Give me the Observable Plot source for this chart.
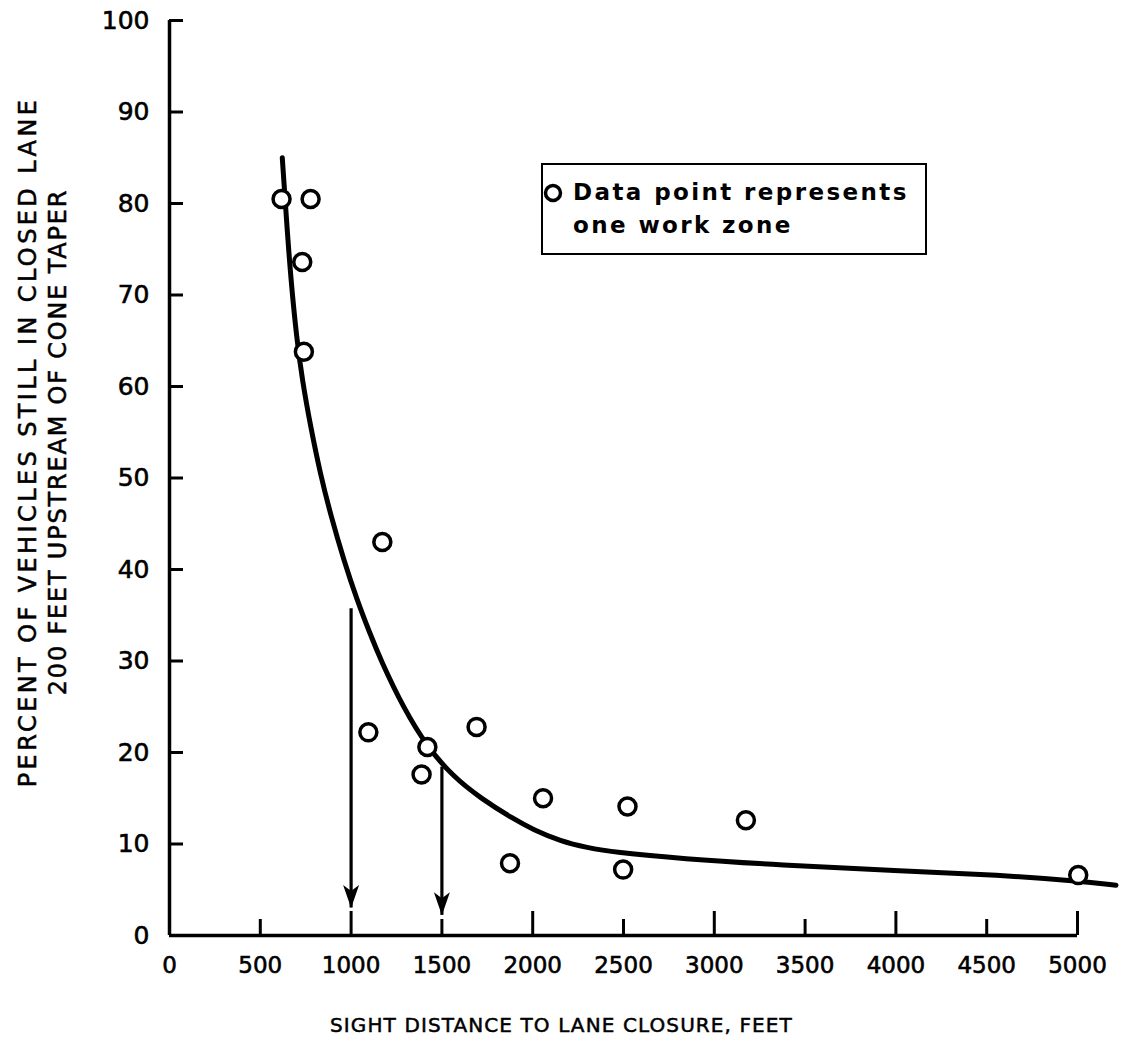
<!DOCTYPE html>
<html><head><meta charset="utf-8">
<script src="https://cdn.jsdelivr.net/npm/d3@7"></script>
<script src="https://cdn.jsdelivr.net/npm/@observablehq/plot@0.6"></script>
<style>
body{margin:0;background:#fff;}
#wrap{position:relative;width:1126px;height:1044px;}
.yt1 text{letter-spacing:3.4px;stroke:#000;stroke-width:0.5px;}
.yt2 text{letter-spacing:1.8px;stroke:#000;stroke-width:0.5px;}
.xt text{letter-spacing:1.1px;stroke:#000;stroke-width:0.5px;}
g[aria-label$="tick label"] text{stroke:#000;stroke-width:0.6px;}
#legend{position:absolute;left:541px;top:163px;width:386px;height:92px;border:2.5px solid #000;box-sizing:border-box;font-family:"DejaVu Sans",sans-serif;font-weight:bold;font-size:23px;letter-spacing:2.4px;color:#000;}
#legend .l1{position:absolute;left:30px;top:13px;white-space:nowrap;line-height:28px;}
#legend .l2{position:absolute;left:30px;top:46px;white-space:nowrap;line-height:28px;}
#legend svg{position:absolute;left:0;top:16px;}
</style></head><body><div id="wrap"></div>
<script>
// Data points (one per work zone)
const pointX = [617, 777, 731, 740, 1172, 1095, 1420, 1388, 1691, 2057, 1875, 2522, 2498, 3174, 5004];
const pointY = [80.5, 80.5, 73.6, 63.8, 43.0, 22.2, 20.6, 17.6, 22.8, 15.0, 7.9, 14.1, 7.2, 12.6, 6.6];
// Fitted curve
const curveX = [621, 645, 667, 700, 731, 780, 830, 887, 960, 1034, 1100, 1163, 1290, 1420, 1560, 1713, 1897, 2000, 2154, 2300, 2447, 2815, 3366, 4000, 4578, 5004, 5212];
const curveY = [85, 78.0, 72.0, 65.3, 60.7, 55.3, 50.5, 46.0, 41.0, 36.6, 33.2, 30.1, 24.8, 20.6, 17.4, 15.0, 12.7, 11.6, 10.3, 9.6, 9.1, 8.4, 7.7, 7.1, 6.6, 5.95, 5.5];
// Arrows
const arrowX = [1000, 1500];
const arrowTop = [35.7, 18.4];
const arrowTip = [3.0, 2.2];
// Ticks
const yTicks = [0, 10, 20, 30, 40, 50, 60, 70, 80, 90, 100];
const xMajor = [1000, 2000, 3000, 4000, 5000];
const xMinor = [500, 1500, 2500, 3500, 4500];
const xLabels = [0, 500, 1000, 1500, 2000, 2500, 3000, 3500, 4000, 4500, 5000];
const yTitle1 = "PERCENT OF VEHICLES STILL IN CLOSED LANE";
const yTitle2 = "200 FEET UPSTREAM OF CONE TAPER";
const xTitle = "SIGHT DISTANCE TO LANE CLOSURE, FEET";
const legendLines = ["Data point represents", "one work zone"];

const arrowHead = {draw(ctx) { ctx.moveTo(0, 0); ctx.lineTo(-8, -23); ctx.lineTo(0, -17); ctx.lineTo(8, -23); ctx.closePath(); }};

const chart = Plot.plot({
  width: 1126, height: 1044,
  marginLeft: 169, marginRight: 49, marginTop: 20, marginBottom: 109,
  x: {domain: [0, 5000], label: null},
  y: {domain: [0, 100], label: null},
  style: {fontFamily: "DejaVu Sans, sans-serif", color: "#000", background: "#fff"},
  marks: [
    Plot.ruleY([0], {x1: 0, x2: 5000, strokeWidth: 3.5, stroke: "#000"}),
    Plot.ruleX([0], {y1: 0, y2: 100, strokeWidth: 3.5, stroke: "#000"}),
    Plot.axisY({ticks: yTicks, tickSize: -14, tickFormat: () => "", strokeWidth: 3}),
    Plot.axisY({ticks: yTicks, tickSize: 0, tickPadding: 20, fontSize: 25, tickFormat: d => String(d)}),
    Plot.axisX({ticks: xMajor, tickSize: -24, tickFormat: () => "", strokeWidth: 3}),
    Plot.axisX({ticks: xMinor, tickSize: -16, tickFormat: () => "", strokeWidth: 3}),
    Plot.axisX({ticks: xLabels, tickSize: 0, tickPadding: 21, fontSize: 23, tickFormat: d => String(d)}),
    Plot.line(curveX, {x: curveX, y: curveY, curve: "basis", strokeWidth: 5, stroke: "#000"}),
    Plot.ruleX(arrowX, {x: arrowX, y1: arrowTop, y2: arrowTip, strokeWidth: 3.2, stroke: "#000"}),
    Plot.dot(arrowX, {x: arrowX, y: arrowTip, symbol: arrowHead, fill: "#000", stroke: null}),
    Plot.dot(pointX, {x: pointX, y: pointY, r: 8.5, fill: "#fff", stroke: "#000", strokeWidth: 3.5}),
    Plot.text([yTitle1], {text: d => d, frameAnchor: "left", textAnchor: "middle", rotate: -90, dx: -141, dy: -36, fontSize: 24, className: "yt1"}),
    Plot.text([yTitle2], {text: d => d, frameAnchor: "left", textAnchor: "middle", rotate: -90, dx: -111, dy: -36, fontSize: 24, className: "yt2"}),
    Plot.text([xTitle], {text: d => d, frameAnchor: "bottom", dx: -62, dy: 96, fontSize: 20, className: "xt"})
  ]
});
const wrap = document.getElementById("wrap");
wrap.appendChild(chart);
const lg = document.createElement("div");
lg.id = "legend";
lg.innerHTML = `<svg width="24" height="24"><circle cx="10" cy="12" r="7.5" fill="#fff" stroke="#000" stroke-width="3.5"/></svg><div class="l1">${legendLines[0]}</div><div class="l2">${legendLines[1]}</div>`;
wrap.appendChild(lg);
</script></body></html>
